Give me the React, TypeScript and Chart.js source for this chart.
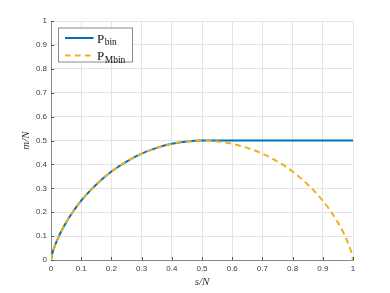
import React, { useEffect, useRef } from "react";
import { Chart, registerables } from "chart.js";

Chart.register(...registerables);

// P_bin: rises then stays flat at 0.5
const S_BIN = [0, 0.005, 0.01, 0.02, 0.03, 0.05, 0.075, 0.1, 0.125, 0.15, 0.2, 0.25, 0.3, 0.35, 0.4, 0.45, 0.5, 0.75, 1];
const M_BIN = [0, 0.03, 0.05, 0.082, 0.11, 0.157, 0.206, 0.248, 0.284, 0.316, 0.37, 0.412, 0.445, 0.469, 0.486, 0.496, 0.5, 0.5, 0.5];

// P_Mbin: symmetric arch back to 0
const S_MBIN = [0, 0.005, 0.01, 0.02, 0.03, 0.05, 0.075, 0.1, 0.125, 0.15, 0.2, 0.25, 0.3, 0.35, 0.4, 0.45, 0.5, 0.55, 0.6, 0.65, 0.7, 0.75, 0.8, 0.85, 0.875, 0.9, 0.925, 0.95, 0.97, 0.98, 0.99, 0.995, 1];
const M_MBIN = [0, 0.03, 0.05, 0.082, 0.11, 0.157, 0.206, 0.248, 0.284, 0.316, 0.37, 0.412, 0.445, 0.469, 0.486, 0.496, 0.5, 0.496, 0.486, 0.469, 0.445, 0.412, 0.37, 0.316, 0.284, 0.248, 0.206, 0.157, 0.11, 0.082, 0.05, 0.03, 0];

const X_TICK_LABELS = ["0", "0.1", "0.2", "0.3", "0.4", "0.5", "0.6", "0.7", "0.8", "0.9", "1"];
const Y_TICK_LABELS = ["0", "0.1", "0.2", "0.3", "0.4", "0.5", "0.6", "0.7", "0.8", "0.9", "1"];

const X_TITLE = "s/N";
const Y_TITLE = "m/N";
const LEGEND_MAIN = ["P", "P"];
const LEGEND_SUB = ["bin", "Mbin"];

const BLUE = "#0072BD";
const ORANGE = "#EDB120";

const innerTicks = {
  id: "innerTicks",
  beforeDatasetsDraw(chart: any) {
    const { ctx, chartArea, scales } = chart;
    ctx.save();
    ctx.strokeStyle = "#555";
    ctx.lineWidth = 1;
    ctx.beginPath();
    scales.x.ticks.forEach((t: any) => {
      const px = Math.round(scales.x.getPixelForValue(t.value)) + 0.5;
      ctx.moveTo(px, chartArea.bottom);
      ctx.lineTo(px, chartArea.bottom - 3);
    });
    scales.y.ticks.forEach((t: any) => {
      const py = Math.round(scales.y.getPixelForValue(t.value)) + 0.5;
      ctx.moveTo(chartArea.left, py);
      ctx.lineTo(chartArea.left + 3, py);
    });
    ctx.stroke();
    ctx.restore();
  },
};

const customLegend = {
  id: "customLegend",
  afterDatasetsDraw(chart: any) {
    const { ctx, chartArea } = chart;
    const x0 = chartArea.left + 7.5;
    const y0 = chartArea.top + 7;
    const w = 74;
    const h = 34;
    ctx.save();
    ctx.fillStyle = "#fff";
    ctx.fillRect(x0, y0, w, h);
    ctx.strokeStyle = "#8a8a8a";
    ctx.lineWidth = 1;
    ctx.strokeRect(x0, y0, w, h);
    const colors = [BLUE, ORANGE];
    const dashes = [[], [5.5, 4.5]];
    for (let i = 0; i < 2; i++) {
      const ly = y0 + 10 + i * 17.5;
      ctx.strokeStyle = colors[i];
      ctx.lineWidth = 2;
      ctx.setLineDash(dashes[i]);
      ctx.beginPath();
      ctx.moveTo(x0 + 6.5, ly);
      ctx.lineTo(x0 + 35, ly);
      ctx.stroke();
      ctx.setLineDash([]);
      ctx.fillStyle = "#111";
      ctx.textBaseline = "alphabetic";
      ctx.textAlign = "left";
      ctx.font = "13px 'Liberation Serif'";
      const tx = x0 + 38.5;
      ctx.fillText(LEGEND_MAIN[i], tx, ly + 4.5);
      const pw = ctx.measureText(LEGEND_MAIN[i]).width;
      ctx.font = "9.5px 'Liberation Serif'";
      ctx.fillText(LEGEND_SUB[i], tx + pw + 0.5, ly + 7);
    }
    ctx.restore();
  },
};

export default function App() {
  const ref = useRef<HTMLCanvasElement>(null);
  useEffect(() => {
    if (!ref.current) return;
    const chart = new Chart(ref.current, {
      type: "line",
      data: {
        datasets: [
          {
            label: "P_bin",
            data: S_BIN.map((s, i) => ({ x: s, y: M_BIN[i] })),
            borderColor: BLUE,
            borderWidth: 2,
            pointRadius: 0,
            cubicInterpolationMode: "monotone",
            fill: false,
            order: 2,
          },
          {
            label: "P_Mbin",
            data: S_MBIN.map((s, i) => ({ x: s, y: M_MBIN[i] })),
            borderColor: ORANGE,
            borderWidth: 2,
            borderDash: [6, 4],
            pointRadius: 0,
            cubicInterpolationMode: "monotone",
            fill: false,
            order: 1,
          },
        ],
      },
      options: {
        responsive: false,
        animation: false,
        events: [],
        layout: { padding: { top: 21, right: 37, left: 0, bottom: 0 } },
        plugins: { legend: { display: false }, tooltip: { enabled: false } },
        scales: {
          x: {
            type: "linear",
            min: 0,
            max: 1,
            afterFit: (s: any) => {
              s.height = 33;
            },
            ticks: {
              stepSize: 0.1,
              autoSkip: false,
              maxRotation: 0,
              padding: 4,
              color: "#3a3a3a",
              font: { family: "'Liberation Sans'", size: 8 },
              callback: (_v: any, i: number) => X_TICK_LABELS[i],
            },
            grid: { color: "#e4e4e4", drawTicks: false, lineWidth: 1 },
            border: { display: true, color: "#8a8a8a", width: 1 },
            title: {
              display: true,
              text: X_TITLE,
              color: "#333",
              font: { family: "'Liberation Serif'", size: 11, style: "italic" },
              padding: { top: 0, bottom: 4 },
            },
          },
          y: {
            type: "linear",
            min: 0,
            max: 1,
            afterFit: (s: any) => {
              s.width = 51;
            },
            ticks: {
              stepSize: 0.1,
              autoSkip: false,
              padding: 4,
              color: "#3a3a3a",
              font: { family: "'Liberation Sans'", size: 8 },
              callback: (_v: any, i: number) => Y_TICK_LABELS[i],
            },
            grid: { color: "#e4e4e4", drawTicks: false, lineWidth: 1 },
            border: { display: true, color: "#8a8a8a", width: 1 },
            title: {
              display: true,
              text: Y_TITLE,
              color: "#333",
              font: { family: "'Liberation Serif'", size: 11, style: "italic" },
              padding: { top: 20, bottom: 0 },
            },
          },
        },
      },
      plugins: [innerTicks, customLegend],
    });
    return () => chart.destroy();
  }, []);
  return (
    <div style={{ position: "absolute", left: 0, top: 0, width: 390, height: 293, background: "#fff" }}>
      <canvas ref={ref} width={390} height={293} style={{ display: "block" }} />
    </div>
  );
}
